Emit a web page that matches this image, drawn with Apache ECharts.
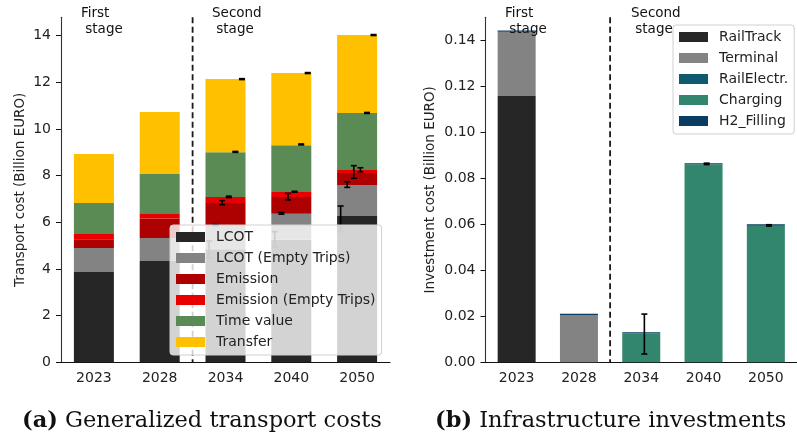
<!DOCTYPE html>
<html>
<head>
<meta charset="utf-8">
<script src="https://cdn.jsdelivr.net/npm/echarts@6/dist/echarts.min.js"></script>
<style>
html,body{margin:0;padding:0;background:#fff;}
#c{width:797px;height:443px;}
</style>
</head>
<body>
<div id="c"></div>
<script>
// ---------- data ----------
const years = ['2023', '2028', '2034', '2040', '2050'];

// (a) Generalized transport costs, stacked segments (Billion EURO)
const costNames = ['LCOT', 'LCOT (Empty Trips)', 'Emission', 'Emission (Empty Trips)', 'Time value', 'Transfer'];
const lcot          = [3.87, 4.34, 4.85, 5.25, 6.27];
const lcotEmpty     = [1.03, 0.99, 1.03, 1.12, 1.33];
const emission      = [0.37, 0.84, 0.95, 0.72, 0.51];
const emissionEmpty = [0.23, 0.22, 0.26, 0.21, 0.13];
const timeValue     = [1.33, 1.68, 1.92, 2.01, 2.45];
const transfer      = [2.10, 2.66, 3.13, 3.09, 3.34];
// error ranges [low, high] per year (null = none)
const lcotErr          = [null, null, [4.47, 5.20], [4.95, 5.60], [5.60, 6.70]];
const lcotEmptyErr     = [null, null, [5.86, 5.90], [6.35, 6.42], [7.50, 7.74]];
const emissionErr      = [null, null, [6.76, 6.93], [6.96, 7.24], [7.89, 8.43]];
const emissionEmptyErr = [null, null, [7.06, 7.12], [7.29, 7.33], [8.17, 8.34]];
const timeValueErr     = [null, null, [9.00, 9.04], [9.32, 9.36], [10.67, 10.71]];
const transferErr      = [null, null, [12.12, 12.16], [12.38, 12.42], [14.01, 14.05]];
const costTicks = [0, 2, 4, 6, 8, 10, 12, 14];

// (b) Infrastructure investments, stacked segments (Billion EURO)
const invNames = ['RailTrack', 'Terminal', 'RailElectr.', 'Charging', 'H2_Filling'];
const railTrack  = [0.1159, 0, 0, 0, 0];
const terminal   = [0.0280, 0.0206, 0, 0, 0];
const railElectr = [0, 0, 0, 0, 0];
const charging   = [0, 0, 0.0126, 0.0862, 0.0595];
const h2Filling  = [0.0005, 0.0005, 0.0005, 0.0005, 0.0006];
const chargingErr = [null, null, [0.0036, 0.0210], [0.0861, 0.0867], [0.0593, 0.0599]];
const invTicks = [0, 0.02, 0.04, 0.06, 0.08, 0.10, 0.12, 0.14];

// ---------- styles ----------
const costColors = ['#262626', '#838383', '#ad0000', '#e80000', '#5a8b55', '#ffc000'];
const invColors  = ['#262626', '#838383', '#0f5a6e', '#31866d', '#0b3c62'];
const FONT = 'DejaVu Sans';
const CAPFONT = 'DejaVu Serif';

const chart = echarts.init(document.getElementById('c'), null, {renderer: 'canvas'});

function errSeries(name, xi, yi, errs, offset) {
  const data = [];
  errs.forEach((e, i) => { if (e) data.push([i, e[0], e[1]]); });
  return {
    type: 'custom', name: name + '_err', xAxisIndex: xi, yAxisIndex: yi, z: 5,
    silent: true, legendHoverLink: false,
    data: data,
    renderItem: function (params, api) {
      const c = api.value(0);
      const lo = api.coord([c, api.value(1)]);
      const hi = api.coord([c, api.value(2)]);
      const band = api.size([1, 0])[0];
      const x = lo[0] + band * offset;
      const cap = 3;
      const st = {stroke: '#000', lineWidth: 1.6};
      return {type: 'group', children: [
        {type: 'line', shape: {x1: x, y1: lo[1], x2: x, y2: hi[1]}, style: st},
        {type: 'line', shape: {x1: x - cap, y1: lo[1], x2: x + cap, y2: lo[1]}, style: st},
        {type: 'line', shape: {x1: x - cap, y1: hi[1], x2: x + cap, y2: hi[1]}, style: st}
      ]};
    }
  };
}

function dividerSeries(xi, yi) {
  return {
    type: 'custom', xAxisIndex: xi, yAxisIndex: yi, z: 4, silent: true,
    data: [[1, 0]],
    renderItem: function (params, api) {
      const p1 = api.coord([1, 0]);
      const p2 = api.coord([2, 0]);
      const x = (p1[0] + p2[0]) / 2;
      const cs = params.coordSys;
      return {type: 'line', shape: {x1: x, y1: cs.y, x2: x, y2: cs.y + cs.height},
        style: {stroke: '#1a1a1a', lineWidth: 1.8, lineDash: [6, 3.5]}};
    }
  };
}

const costData = [lcot, lcotEmpty, emission, emissionEmpty, timeValue, transfer];
const costErrs = [lcotErr, lcotEmptyErr, emissionErr, emissionEmptyErr, timeValueErr, transferErr];
const invData = [railTrack, terminal, railElectr, charging, h2Filling];

const series = [];
costNames.forEach((n, i) => {
  series.push({type: 'bar', name: n, stack: 'a', xAxisIndex: 0, yAxisIndex: 0,
    barWidth: 40, data: costData[i], itemStyle: {color: costColors[i]}, z: 2});
});
invNames.forEach((n, i) => {
  series.push({type: 'bar', name: n, stack: 'b', xAxisIndex: 1, yAxisIndex: 1,
    barWidth: 38, data: invData[i], itemStyle: {color: invColors[i]}, z: 2});
});
costNames.forEach((n, i) => {
  series.push(errSeries(n, 0, 0, costErrs[i], -0.25 + 0.1 * i));
});
series.push(errSeries('Charging', 1, 1, chargingErr, 0.05));
series.push(dividerSeries(0, 0));
series.push(dividerSeries(1, 1));

const axisLabelStyle = {fontFamily: FONT, fontSize: 14, color: '#222'};

function xAxisCfg(gi) {
  return {
    type: 'category', gridIndex: gi, data: years,
    axisLine: {lineStyle: {color: '#111', width: 1.1}},
    axisTick: {alignWithLabel: true, length: 5, lineStyle: {color: '#111'}},
    axisLabel: Object.assign({margin: 9}, axisLabelStyle),
    splitLine: {show: false}
  };
}
function yAxisCfg(gi, max, ticks, name, gap, fmt) {
  return {
    type: 'value', gridIndex: gi, min: 0, max: max,
    name: name, nameLocation: 'middle', nameGap: gap,
    nameTextStyle: {fontFamily: FONT, fontSize: 13.5, color: '#222'},
    axisLine: {show: true, lineStyle: {color: '#333', width: 1.1}},
    axisTick: {show: true, length: 5, customValues: ticks, lineStyle: {color: '#111'}},
    axisLabel: Object.assign({margin: 10, customValues: ticks, formatter: fmt}, axisLabelStyle),
    splitLine: {show: false}
  };
}

const legendBase = {
  orient: 'vertical', icon: 'rect', itemWidth: 29, itemHeight: 10, itemGap: 7,
  backgroundColor: 'rgba(255,255,255,0.8)', borderColor: '#d0d0d0', borderWidth: 1,
  borderRadius: 3, padding: [5, 6, 6, 6], selectedMode: false,
  textStyle: {fontFamily: FONT, fontSize: 14, color: '#222', lineHeight: 14, padding: [0, 0, 0, 6]},
  z: 10
};

const stageStyle = {fontFamily: FONT, fontSize: 13.5, fill: '#111', lineHeight: 16.5};

function caption(label, text, left) {
  return {type: 'text', left: left, top: 410, z: 20, style: {
    text: '{b|' + label + '} ' + text,
    fontFamily: CAPFONT, fontSize: 22.5, fill: '#111',
    rich: {b: {fontFamily: CAPFONT, fontSize: 22.5, fontWeight: 'bold', fill: '#111'}}
  }};
}

chart.setOption({
  animation: false,
  backgroundColor: '#fff',
  grid: [
    {left: 61, top: 17.3, width: 329, height: 345},
    {left: 485.5, top: 17.3, width: 315, height: 345}
  ],
  xAxis: [xAxisCfg(0), xAxisCfg(1)],
  yAxis: [
    yAxisCfg(0, 14.79, costTicks, 'Transport cost (Billion EURO)', 34, v => String(v)),
    yAxisCfg(1, 0.1502, invTicks, 'Investment cost (Billion EURO)', 48, v => v.toFixed(2))
  ],
  legend: [
    Object.assign({}, legendBase, {left: 170, top: 225, data: costNames}),
    Object.assign({}, legendBase, {left: 673, top: 25, data: invNames})
  ],
  graphic: [
    {type: 'text', left: 81, top: 5, z: 20, style: Object.assign({text: 'First\n stage'}, stageStyle)},
    {type: 'text', left: 212, top: 5, z: 20, style: Object.assign({text: 'Second\n stage'}, stageStyle)},
    {type: 'text', left: 505, top: 5, z: 20, style: Object.assign({text: 'First\n stage'}, stageStyle)},
    {type: 'text', left: 631, top: 5, z: 1, style: Object.assign({text: 'Second\n stage'}, stageStyle)},
    caption('(a)', 'Generalized transport costs', 22),
    caption('(b)', 'Infrastructure investments', 435)
  ],
  series: series
});
</script>
</body>
</html>
